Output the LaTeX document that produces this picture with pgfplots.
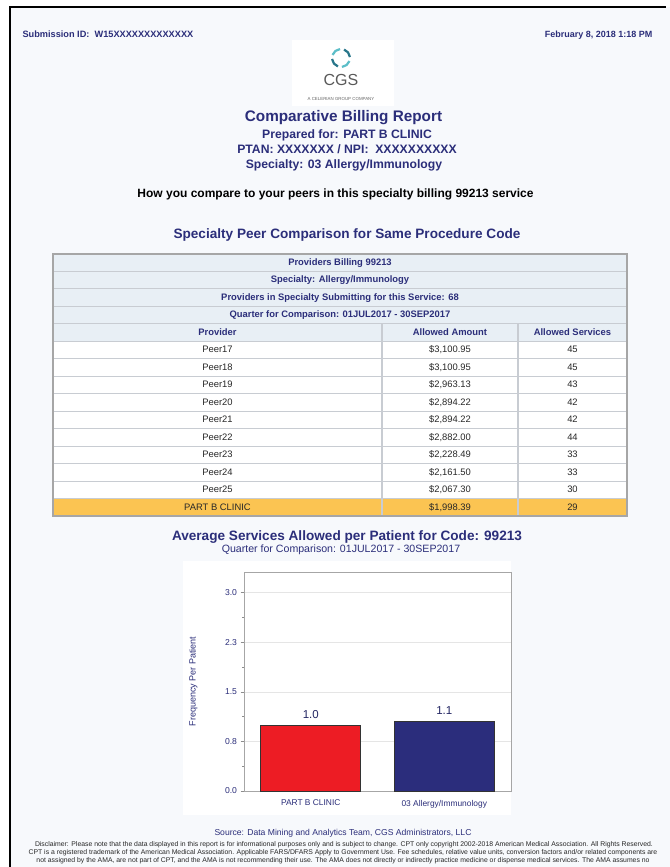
\documentclass[border=0pt]{standalone}
\usepackage{fontspec}
\setmainfont{Liberation Sans}
\usepackage{pgfplots}
\pgfplotsset{compat=1.18}
\definecolor{navy}{RGB}{43,46,122}
\definecolor{pagebg}{RGB}{247,249,252}
\definecolor{headbg}{RGB}{232,239,245}
\definecolor{gridc}{RGB}{200,204,210}
\definecolor{gold}{RGB}{251,196,82}
\definecolor{barred}{RGB}{237,28,36}
\definecolor{barblue}{RGB}{43,45,124}
\definecolor{tealA}{RGB}{92,190,200}
\definecolor{tealB}{RGB}{40,118,138}
\definecolor{txt}{RGB}{40,40,40}
\newcommand{\fs}[1]{\fontsize{#1bp}{#1bp}\selectfont}
\begin{document}
\begin{tikzpicture}
\path[use as bounding box, fill=white] (0,0) rectangle (670bp,-867bp);
\begin{scope}[x=1bp,y=-1bp]
\fill[pagebg] (10,7) rectangle (670,867);
\draw[black, line width=1.3bp] (10,867) -- (10,7) -- (666,7);
% header line
\node[anchor=mid west, font=\fs{9.2}\bfseries, text=navy] at (19,35) {Submission ID:\ \ W15XXXXXXXXXXXXX};
\node[anchor=mid east, font=\fs{9}\bfseries, text=navy] at (656,35) {February 8, 2018 1:18 PM};
% logo
\fill[white] (292,40) rectangle (394,106);
\foreach \a/\c in {20/tealA,110/tealB,200/tealA,290/tealB}{
  \draw[\c, line width=2.2bp] (341,58) ++(\a:9) arc[start angle=\a, end angle=\a+64, radius=9];
}
\node[anchor=mid, font=\fs{16}, text=black!65] at (341,83) {CGS};
\node[anchor=mid, font=\fs{4.4}, text=black!60] at (341,98) {A CELERIAN GROUP COMPANY};
% titles
\node[anchor=mid, font=\fs{15.3}\bfseries, text=navy] at (343.5,119) {Comparative Billing Report};
\node[anchor=mid, font=\fs{12.2}\bfseries, text=navy] at (347,136) {Prepared for: PART B CLINIC};
\node[anchor=mid, font=\fs{12.2}\bfseries, text=navy] at (347,150.5) {PTAN: XXXXXXX / NPI:\ \ XXXXXXXXXX};
\node[anchor=mid, font=\fs{12.2}\bfseries, text=navy] at (344,166) {Specialty: 03 Allergy/Immunology};
\node[anchor=mid, font=\fs{12}\bfseries, text=black] at (335.5,195) {How you compare to your peers in this specialty billing 99213 service};
\node[anchor=mid, font=\fs{13.6}\bfseries, text=navy] at (347,236) {Specialty Peer Comparison for Same Procedure Code};
% table
\foreach \t [count=\i from 0] in {Providers Billing 99213,Specialty: Allergy/Immunology,Providers in Specialty Submitting for this Service: 68,Quarter for Comparison: 01JUL2017 - 30SEP2017}{
  \filldraw[fill=headbg, draw=gridc, line width=1.4bp] (53,253.75+17.5*\i) rectangle (627,271.25+17.5*\i);
  \node[anchor=mid, font=\fs{9.4}\bfseries, text=navy] at (340,262.5+17.5*\i) {\t};
}
\filldraw[fill=headbg, draw=gridc, line width=1.4bp] (53,323.75) rectangle (627,341.25);
\draw[gridc, line width=1.2bp] (382,323.75) -- (382,341.25) (518,323.75) -- (518,341.25);
\node[anchor=mid, font=\fs{9.4}\bfseries, text=navy] at (217.5,332.5) {Provider};
\node[anchor=mid, font=\fs{9.4}\bfseries, text=navy] at (450,332.5) {Allowed Amount};
\node[anchor=mid, font=\fs{9.4}\bfseries, text=navy] at (572.5,332.5) {Allowed Services};
\foreach \n/\a/\s [count=\i from 5] in {Peer17/{\$3,100.95}/45,Peer18/{\$3,100.95}/45,Peer19/{\$2,963.13}/43,Peer20/{\$2,894.22}/42,Peer21/{\$2,894.22}/42,Peer22/{\$2,882.00}/44,Peer23/{\$2,228.49}/33,Peer24/{\$2,161.50}/33,Peer25/{\$2,067.30}/30}{
  \filldraw[fill=white, draw=gridc, line width=1.4bp] (53,253.75+17.5*\i) rectangle (627,271.25+17.5*\i);
  \draw[gridc, line width=1.2bp] (382,253.75+17.5*\i) -- (382,271.25+17.5*\i) (518,253.75+17.5*\i) -- (518,271.25+17.5*\i);
  \node[anchor=mid, font=\fs{9.4}, text=txt] at (217.5,262.5+17.5*\i) {\n};
  \node[anchor=mid, font=\fs{9.4}, text=txt] at (450,262.5+17.5*\i) {\a};
  \node[anchor=mid, font=\fs{9.4}, text=txt] at (572.5,262.5+17.5*\i) {\s};
}
\filldraw[fill=gold, draw=gridc, line width=1.4bp] (53,498.75) rectangle (627,516.25);
\draw[gridc, line width=1.2bp] (382,498.75) -- (382,516.25) (518,498.75) -- (518,516.25);
\node[anchor=mid, font=\fs{9.4}, text=txt] at (217.5,507.5) {PART B CLINIC};
\node[anchor=mid, font=\fs{9.4}, text=txt] at (450,507.5) {\$1,998.39};
\node[anchor=mid, font=\fs{9.4}, text=txt] at (572.5,507.5) {29};
\draw[black!35, line width=1.6bp] (53,253.75) rectangle (627,516.25);
% chart titles
\node[anchor=mid, font=\fs{13.6}\bfseries, text=navy] at (347,538) {Average Services Allowed per Patient for Code: 99213};
\node[anchor=mid, font=\fs{10.6}, text=navy] at (341,550) {Quarter for Comparison: 01JUL2017 - 30SEP2017};
\fill[white] (183,561) rectangle (511,815);
% footer
\node[anchor=mid, font=\fs{8.6}, text=navy] at (343,833) {Source: Data Mining and Analytics Team, CGS Administrators, LLC};
\node[anchor=mid, font=\fs{6.85}, text=black!85] at (344,844) {Disclaimer: Please note that the data displayed in this report is for informational purposes only and is subject to change. CPT only copyright 2002-2018 American Medical Association. All Rights Reserved.};
\node[anchor=mid, font=\fs{6.85}, text=black!85] at (343,852) {CPT is a registered trademark of the American Medical Association. Applicable FARS/DFARS Apply to Government Use. Fee schedules, relative value units, conversion factors and/or related components are};
\node[anchor=mid, font=\fs{6.85}, text=black!85] at (343,860) {not assigned by the AMA, are not part of CPT, and the AMA is not recommending their use. The AMA does not directly or indirectly practice medicine or dispense medical services. The AMA assumes no};
\end{scope}
\begin{axis}[
  at={(244bp,-791bp)}, anchor=south west, scale only axis,
  width=267bp, height=219bp,
  xmin=-0.5, xmax=1.5, ymin=0, ymax=3.313,
  axis background/.style={fill=white},
  axis line style={black!35, line width=0.8bp},
  xtick={0,1}, xticklabels={PART B CLINIC,03 Allergy/Immunology},
  x tick label style={font=\fs{8.4}, text=navy, yshift=-2bp},
  major x tick style={draw=none},
  xtick pos=bottom, ytick pos=left,
  ytick={0,0.75,1.5,2.25,3}, yticklabels={0.0,0.8,1.5,2.3,3.0},
  minor ytick={0.375,1.125,1.875,2.625},
  y tick label style={font=\fs{8.6}, text=navy},
  tick align=outside, major tick length=3.5bp, minor tick length=2bp,
  every tick/.style={black!45, line width=0.6bp},
  ymajorgrids, grid style={black!10, line width=0.7bp},
  ylabel={Frequency Per Patient},
  every axis y label/.style={at={(axis description cs:-0.19,0.5)}, rotate=90, anchor=center, font=\fs{9}, text=navy},
  /pgf/number format/assume math mode=true,
  ybar, bar width=100bp,
  nodes near coords, point meta=explicit symbolic,
  every node near coord/.append style={font=\fs{11.5}, text=navy!80!black, yshift=3bp},
  clip=false,
]
\addplot[bar shift=0pt, fill=barred, draw=black!80, line width=0.8bp] coordinates {(0,1.0) [1.0]};
\addplot[bar shift=0pt, fill=barblue, draw=black!80, line width=0.8bp] coordinates {(1,1.06) [1.1]};
\end{axis}
\end{tikzpicture}
\end{document}
